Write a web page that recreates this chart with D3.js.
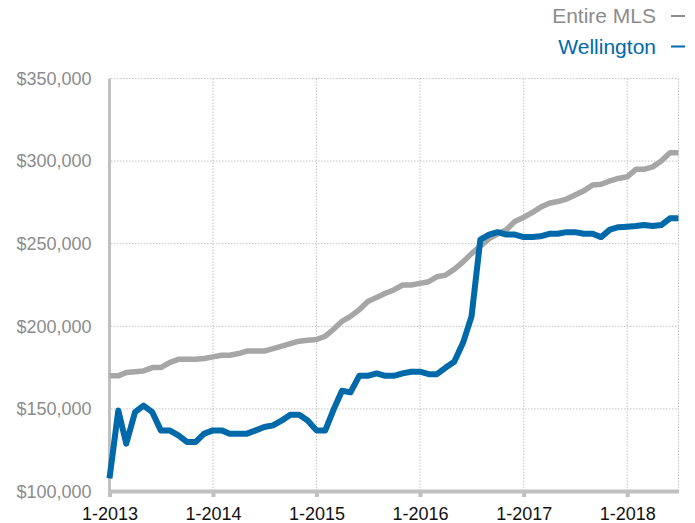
<!DOCTYPE html>
<html>
<head>
<meta charset="utf-8">
<script src="https://cdn.jsdelivr.net/npm/d3@7"></script>
<style>
  html, body { margin: 0; padding: 0; background: #fff; }
  svg { display: block; font-family: "Liberation Sans", Arial, Helvetica, sans-serif; }
</style>
</head>
<body>
<svg id="chart" width="695" height="523"></svg>
<script>
// Monthly median sale price, January 2013 through July 2018
const startMonth = new Date(2013, 0, 1);
const endMonth = new Date(2018, 6, 1);

const seriesNames = ["Entire MLS", "Wellington"];

const entireMLS = [
  170000, 170000, 172000, 172500, 173000, 175000, 175000, 178000, 180000, 180000, 180000, 180500,
  181500, 182500, 182500, 183500, 185000, 185000, 185000, 186500, 188000, 189500, 191000, 191500,
  192000, 194000, 198000, 203000, 206000, 210000, 215000, 217500, 220000, 222000, 225000, 225000,
  226000, 227000, 230000, 231000, 234500, 239000, 244000, 248500, 253000, 256000, 258500, 263500,
  266000, 269000, 272000, 274500, 275500, 277000, 279500, 282000, 285500, 286000, 288000, 289500,
  290500, 295000, 295000, 296500, 300000, 305000, 305000
];

const wellington = [
  108000, 149000, 129000, 148000, 152000, 148000, 137000, 137000, 134000, 130000, 130000, 135000,
  137000, 137000, 135000, 135000, 135000, 137000, 139000, 140000, 143000, 146500, 146500, 143000,
  137000, 137000, 149000, 161000, 160000, 170000, 170000, 171500, 170000, 170000, 171500, 172500,
  172500, 171000, 171000, 175000, 178500, 190000, 206000, 252500, 255500, 257000, 255500, 255500,
  254000, 254000, 254500, 256000, 256000, 257000, 257000, 256000, 256000, 254000, 258500, 260000,
  260300, 260700, 261300, 260700, 261300, 265400, 265400
];

const yTickValues = [100000, 150000, 200000, 250000, 300000, 350000];
const xTickValues = [2013, 2014, 2015, 2016, 2017, 2018].map(y => new Date(y, 0, 1));

const months = d3.timeMonth.range(startMonth, d3.timeMonth.offset(endMonth, 1));

const svg = d3.select("#chart");

const x = d3.scaleTime().domain([startMonth, endMonth]).range([109.5, 678.5]);
const y = d3.scaleLinear().domain([100000, 350000]).range([491.5, 78.5]);

const gridColor = "#c4c4c4";
const axisColor = "#c0c0c0";

// dotted grid
const grid = svg.append("g");
grid.selectAll("line.h")
  .data(yTickValues.filter(v => v > 100000))
  .join("line")
  .attr("x1", 111).attr("x2", x(endMonth))
  .attr("y1", d => y(d)).attr("y2", d => y(d))
  .attr("stroke", gridColor).attr("stroke-width", 1)
  .attr("stroke-dasharray", "1.5,1.5");
grid.selectAll("line.v")
  .data(xTickValues.slice(1).concat([endMonth]))
  .join("line")
  .attr("x1", d => x(d)).attr("x2", d => x(d))
  .attr("y1", y(350000)).attr("y2", y(100000))
  .attr("stroke", gridColor).attr("stroke-width", 1)
  .attr("stroke-dasharray", "1.5,1.5");

// y axis
const yAxis = d3.axisLeft(y)
  .tickValues(yTickValues)
  .tickFormat(d3.format("$,"))
  .tickSize(0)
  .tickPadding(18);
const gy = svg.append("g").attr("transform", "translate(109.5,0)").call(yAxis);
gy.select(".domain").remove();
gy.selectAll("text")
  .attr("fill", "#8c8c8c")
  .style("font-size", "18px")
  .style("font-family", "'Liberation Sans', Arial, sans-serif");
svg.append("line")
  .attr("x1", 109.5).attr("x2", 109.5)
  .attr("y1", y(350000)).attr("y2", 497)
  .attr("stroke", axisColor).attr("stroke-width", 3);

// x axis
const xAxis = d3.axisBottom(x)
  .tickValues(xTickValues)
  .tickFormat(d3.timeFormat("%-m-%Y"))
  .tickSize(5.5)
  .tickPadding(10);
const gx = svg.append("g").attr("transform", `translate(0,${y(100000)})`).call(xAxis);
gx.select(".domain").remove();
gx.selectAll(".tick line").attr("stroke", axisColor).attr("stroke-width", 4);
gx.selectAll("text")
  .attr("fill", "#111")
  .style("font-size", "18px")
  .style("font-family", "'Liberation Sans', Arial, sans-serif");
svg.append("line")
  .attr("x1", 108).attr("x2", 679)
  .attr("y1", y(100000)).attr("y2", y(100000))
  .attr("stroke", axisColor).attr("stroke-width", 4);

// series lines
const line = d3.line()
  .x((d, i) => x(months[i]))
  .y(d => y(d));

const series = [
  { name: seriesNames[0], values: entireMLS, color: "#a6a6a6", width: 5.5 },
  { name: seriesNames[1], values: wellington, color: "#0069aa", width: 6 }
];

svg.append("g").selectAll("path")
  .data(series)
  .join("path")
  .attr("d", d => line(d.values))
  .attr("fill", "none")
  .attr("stroke", d => d.color)
  .attr("stroke-width", d => d.width)
  .attr("stroke-linejoin", "round");

// legend
const legend = svg.append("g");
const legendRows = legend.selectAll("g")
  .data(series)
  .join("g")
  .attr("transform", (d, i) => `translate(0,${23 + i * 30.5})`);
legendRows.append("text")
  .attr("x", 656)
  .attr("text-anchor", "end")
  .attr("fill", (d, i) => i === 0 ? "#8c8c8c" : "#0069aa")
  .style("font-size", "21px")
  .text(d => d.name);
legendRows.append("line")
  .attr("x1", 671).attr("x2", 685)
  .attr("y1", -7).attr("y2", -7)
  .attr("stroke", (d, i) => i === 0 ? "#8c8c8c" : "#0069aa")
  .attr("stroke-width", 2);
</script>
</body>
</html>
